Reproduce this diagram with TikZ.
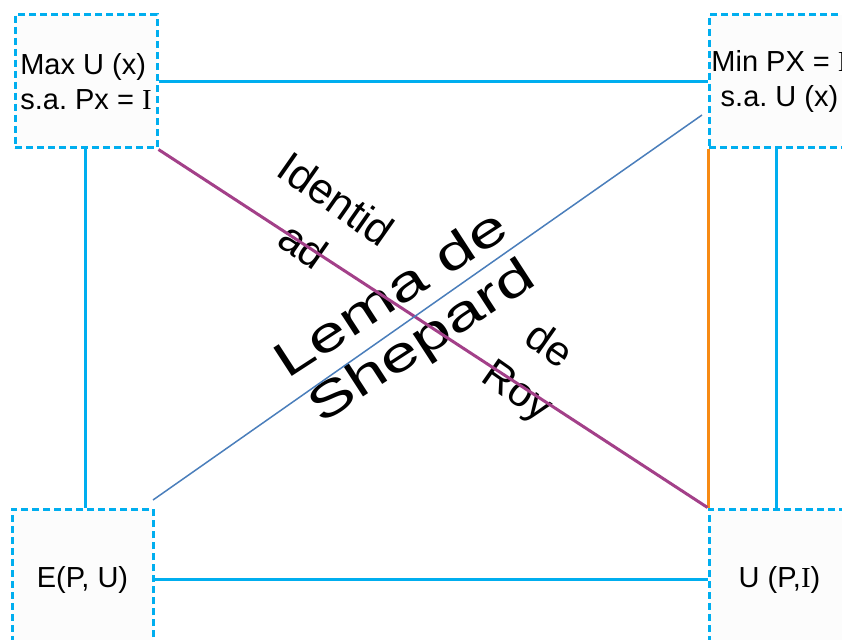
\documentclass[tikz,border=0pt]{standalone}
\usepackage{fontspec}
\setmainfont{Liberation Sans}
\newfontfamily\serifI{Liberation Serif}
\usetikzlibrary{positioning,calc}
\definecolor{boxcyan}{RGB}{0,174,239}
\definecolor{boxfill}{RGB}{252,252,252}
\definecolor{lawpurple}{RGB}{163,64,137}
\definecolor{royblue}{RGB}{74,126,187}
\definecolor{slutorange}{RGB}{247,138,20}
\frenchspacing

\begin{document}
\begin{tikzpicture}[x=1pt, y=-1pt,
    problem/.style={draw=boxcyan, line width=3pt, dash pattern=on 7pt off 4pt,
        fill=boxfill, inner sep=0pt, font=\fontsize{29}{35}\selectfont},
    link/.style={draw=boxcyan, line width=3pt},
    bigtext/.style={font=\fontsize{49}{56}\selectfont, align=center},
    midtext/.style={font=\fontsize{43}{57}\selectfont, align=center},
]
    \useasboundingbox (0,0) rectangle (842,639);
    % the four problems / functions
    \node[problem, minimum width=142pt, minimum height=133pt, align=left] (umax) at (86,81.5)
        {Max U (x)\\s.a. Px = {\serifI I}};
    \node[problem, minimum width=141pt, minimum height=133pt, align=center] (emin) at (779.5,81.5)
        {Min PX = {\serifI I}\\s.a. U (x)};
    \node[problem, minimum width=141pt, minimum height=141pt] (efun) at (82.5,579.5) {E(P, U)};
    \node[problem, minimum width=141pt, minimum height=141pt] (vfun) at (779.5,579.5) {U (P,{\serifI I})};
    % diagonal labels
    \node[midtext, rotate=-35] (ident) at (320,222) {Identid\\ad};
    \node[bigtext, rotate=33, xscale=1.4] (shep) at (408,320) {Lema de\\Shepard};
    \node[midtext, rotate=-35, font=\fontsize{42}{55}\selectfont] (roy) at (532,370) {de\\Roy};
    % connectors
    \draw[link] (umax.east) -- (emin.west);
    \draw[link] (efun.east) -- (vfun.west);
    \draw[link] ([xshift=-1pt]umax.south) -- ([xshift=-1pt]umax.south |- efun.north);
    \draw[link] ([xshift=-3.5pt]emin.south) -- ([xshift=-3.5pt]emin.south |- vfun.north);
    \draw[slutorange, line width=3pt] (emin.south west) ++(1,0) -- ($(vfun.north west)+(1,0)$);
    \draw[lawpurple, line width=3pt] (umax.south east) -- (vfun.north west);
    \coordinate (shepA) at (153,500);
    \coordinate (shepB) at (702,115);
    \draw[royblue, line width=1.5pt] (shepA) -- (shepB);
\end{tikzpicture}
\end{document}
